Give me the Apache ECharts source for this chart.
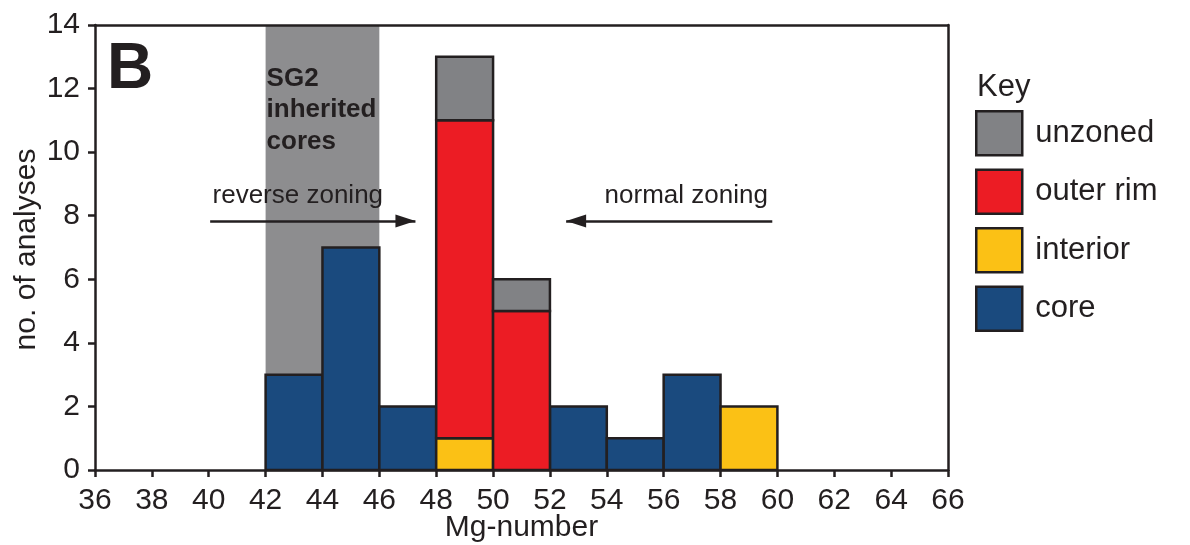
<!DOCTYPE html>
<html>
<head>
<meta charset="utf-8">
<script src="https://cdn.jsdelivr.net/npm/echarts@6/dist/echarts.min.js"></script>
<style>html,body{margin:0;padding:0;background:#fff}#c{width:1190px;height:545px}</style>
</head>
<body>
<div id="c"></div>
<script>
// ---- data ----
const binStart = [42, 44, 46, 48, 50, 52, 54, 56, 58];
const binWidth = 2;
const core     = [3, 7, 2, 0, 0, 2, 1, 3, 0];
const interior = [0, 0, 0, 1, 0, 0, 0, 0, 2];
const outerRim = [0, 0, 0, 10, 5, 0, 0, 0, 0];
const unzoned  = [0, 0, 0, 2, 1, 0, 0, 0, 0];
const xTicks = [36,38,40,42,44,46,48,50,52,54,56,58,60,62,64,66];
const yTicks = [0,2,4,6,8,10,12,14];
const stackOrder = ['core', 'interior', 'outer rim', 'unzoned'];
const stackValues = { 'core': core, 'interior': interior, 'outer rim': outerRim, 'unzoned': unzoned };
const legendOrder = ['unzoned', 'outer rim', 'interior', 'core'];
const inheritedBand = [42, 46];
const reverseArrow = { from: [40.05, 7.83], to: [47.27, 7.83], label: 'reverse zoning' };
const normalArrow  = { from: [59.82, 7.83], to: [52.57, 7.83], label: 'normal zoning' };
const yAxisTitle = 'no. of analyses';
const xAxisTitle = 'Mg-number';

const colors = { 'core': '#1a4a7e', 'interior': '#fbc115', 'outer rim': '#ec1c24', 'unzoned': '#818285' };
const ink = '#231f20';
const FONT = '"Liberation Sans", Arial, Helvetica, sans-serif';

// build stacked rects
const bottoms = binStart.map(() => 0);
const series = [];
series.push({
  type: 'custom', name: '_band', z: 1, silent: true,
  data: [], renderItem: () => null,
  markArea: {
    silent: true,
    itemStyle: { color: '#8d8d8f', opacity: 1 },
    data: [[{ xAxis: inheritedBand[0], yAxis: 0 }, { xAxis: inheritedBand[1], yAxis: 14 }]]
  }
});
series.push({
  type: 'custom', name: '_arrows', z: 3, silent: true,
  data: [], renderItem: () => null,
  markLine: {
    silent: true,
    lineStyle: { color: ink, width: 2.5, type: 'solid' },
    symbolSize: [13, 20],
    symbolOffset: [0, [0, 10]],
    label: { show: false },
    data: [
      [{ coord: reverseArrow.from, symbol: 'none' }, { coord: reverseArrow.to, symbol: 'triangle' }],
      [{ coord: normalArrow.from, symbol: 'none' }, { coord: normalArrow.to, symbol: 'triangle' }]
    ]
  }
});
stackOrder.forEach(name => {
  const vals = stackValues[name];
  const data = [];
  binStart.forEach((x, i) => {
    if (vals[i] > 0) {
      data.push([x, x + binWidth, bottoms[i], bottoms[i] + vals[i]]);
      bottoms[i] += vals[i];
    }
  });
  series.push({
    type: 'custom', name: name, z: 2,
    itemStyle: { color: colors[name], borderColor: ink, borderWidth: 2.5 },
    encode: { x: [0, 1], y: [2, 3] },
    data: data,
    renderItem: function (params, api) {
      const p0 = api.coord([api.value(0), api.value(3)]);
      const p1 = api.coord([api.value(1), api.value(2)]);
      return {
        type: 'rect',
        shape: { x: p0[0], y: p0[1], width: p1[0] - p0[0], height: p1[1] - p0[1] },
        style: { fill: colors[name], stroke: ink, lineWidth: 2.5 }
      };
    }
  });
});

const chart = echarts.init(document.getElementById('c'), null, { renderer: 'canvas' });
const axisLabelStyle = { color: ink, fontSize: 30, fontFamily: FONT };
chart.setOption({
  animation: false,
  backgroundColor: '#fff',
  grid: { left: 95, right: 242, top: 25, bottom: 75, show: false, containLabel: false, outerBoundsMode: 'none' },
  xAxis: [{
    type: 'value', min: 36, max: 66, interval: 2, z: 5,
    axisLine: { show: true, lineStyle: { color: ink, width: 2.5 } },
    axisTick: { show: true, inside: false, length: 7, lineStyle: { color: ink, width: 2.5 } },
    axisLabel: Object.assign({ margin: 16 }, axisLabelStyle),
    splitLine: { show: false }
  }, {
    type: 'value', min: 36, max: 66, interval: 2, position: 'top', z: 5,
    axisLine: { show: true, onZero: false, lineStyle: { color: ink, width: 2.5 } },
    axisTick: { show: false }, axisLabel: { show: false }, splitLine: { show: false }
  }],
  yAxis: [{
    type: 'value', min: 0, max: 14, interval: 2, z: 5,
    axisLine: { show: true, lineStyle: { color: ink, width: 2.5 } },
    axisTick: { show: true, inside: false, length: 7, lineStyle: { color: ink, width: 2.5 } },
    axisLabel: Object.assign({ margin: 15 }, axisLabelStyle),
    splitLine: { show: false }
  }, {
    type: 'value', min: 0, max: 14, interval: 2, position: 'right', z: 5,
    axisLine: { show: true, onZero: false, lineStyle: { color: ink, width: 2.5 } },
    axisTick: { show: false }, axisLabel: { show: false }, splitLine: { show: false }
  }],
  legend: {
    data: legendOrder, orient: 'vertical', left: 970, top: 105,
    icon: 'rect', itemWidth: 46, itemHeight: 44, itemGap: 12,
    itemStyle: { borderColor: ink, borderWidth: 2.5 },
    textStyle: { color: ink, fontSize: 31, fontFamily: FONT, padding: [0, 0, 0, 8] },
    selectedMode: false
  },
  series: series
});

// annotations anchored to data coordinates
function px(pt) { return chart.convertToPixel({ xAxisIndex: 0, yAxisIndex: 0 }, pt); }
const gText = [];
const bandLeft = px([inheritedBand[0], 14]);
const rvMid = px([(reverseArrow.from[0] + reverseArrow.to[0]) / 2, reverseArrow.from[1]]);
const nmMid = px([(normalArrow.from[0] + normalArrow.to[0]) / 2, normalArrow.from[1]]);
const origin = px([36, 14]);
const yMid = px([36, 7]);
const xMid = px([51, 0]);
gText.push({ type: 'text', z: 100, x: 27, y: yMid[1] + 2, rotation: Math.PI / 2,
  style: { text: yAxisTitle, font: '30px ' + FONT, fill: ink, textAlign: 'center', textVerticalAlign: 'middle' } });
gText.push({ type: 'text', z: 100, x: xMid[0], y: xMid[1] + 73,
  style: { text: xAxisTitle, font: '30px ' + FONT, fill: ink, textAlign: 'center', textVerticalAlign: 'bottom' } });
gText.push({ type: 'text', z: 100, x: origin[0] + 12, y: origin[1] + 13,
  style: { text: 'B', font: '900 64px ' + FONT, fill: ink, textVerticalAlign: 'top' } });
gText.push({ type: 'text', z: 100, x: bandLeft[0] + 1, y: bandLeft[1] + 38,
  style: { text: 'SG2\ninherited\ncores', font: 'bold 26px ' + FONT, fill: ink, lineHeight: 31.5, textVerticalAlign: 'top' } });
gText.push({ type: 'text', z: 100, x: rvMid[0] - 15, y: rvMid[1] - 12,
  style: { text: reverseArrow.label, font: '26px ' + FONT, fill: ink, textAlign: 'center', textVerticalAlign: 'bottom' } });
gText.push({ type: 'text', z: 100, x: nmMid[0] + 17, y: nmMid[1] - 12,
  style: { text: normalArrow.label, font: '26px ' + FONT, fill: ink, textAlign: 'center', textVerticalAlign: 'bottom' } });
gText.push({ type: 'text', z: 100, x: 977, y: 72,
  style: { text: 'Key', font: '31px ' + FONT, fill: ink, textVerticalAlign: 'top' } });
chart.setOption({ graphic: gText });
</script>
</body>
</html>
